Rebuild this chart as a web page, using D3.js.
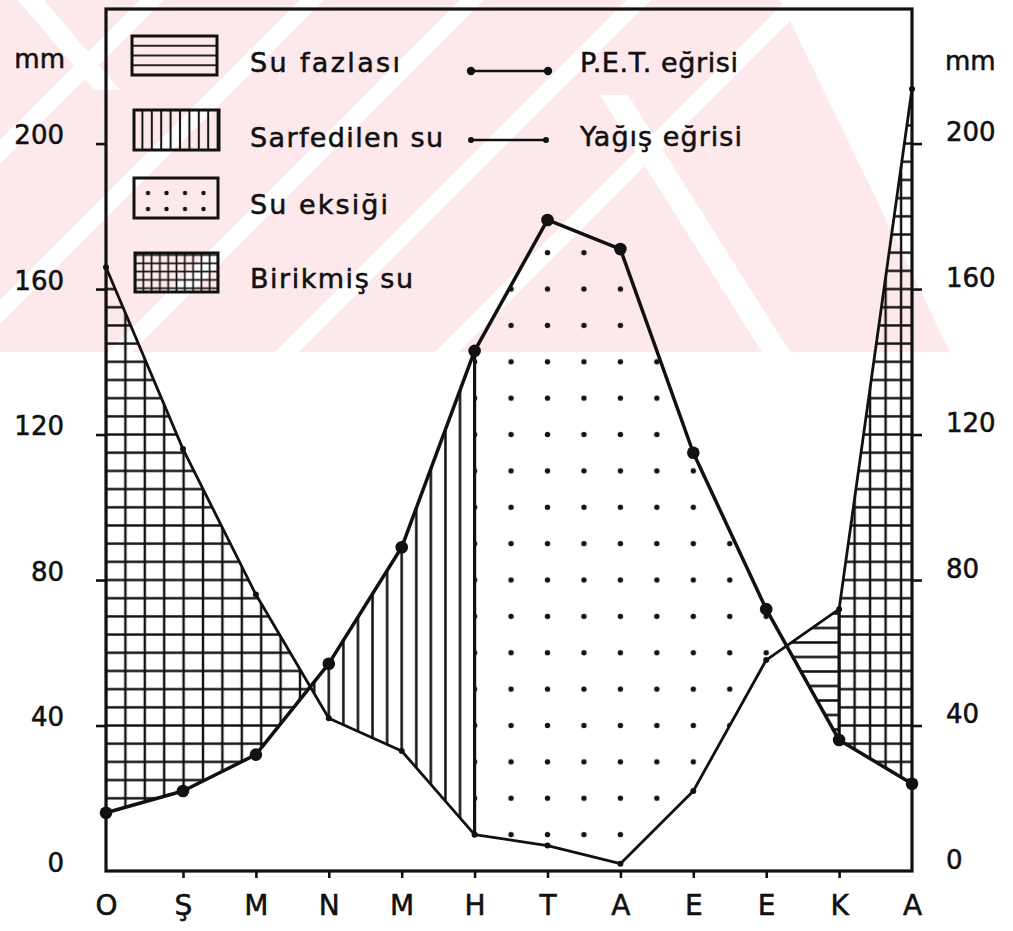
<!DOCTYPE html>
<html><head><meta charset="utf-8">
<script src="https://cdn.jsdelivr.net/npm/d3@7"></script>
<style>
body{margin:0;background:#fff}
svg{display:block}
text{font-family:"DejaVu Sans",sans-serif;fill:#111;stroke:#111;stroke-width:0.55px}
</style>
</head><body>
<svg id="c" width="1013" height="931"></svg>
<script>
// ---------- data ----------
const months = ["O","Ş","M","N","M","H","T","A","E","E","K","A"];
const pet  = [16, 22, 32, 57, 89, 143, 179, 171, 115, 72, 36, 24];   // P.E.T. (mm)
const rain = [166, 116, 76, 42, 33, 10, 7, 2, 22, 58, 72, 215];      // Yağış (mm)
const yTicks = [0, 40, 80, 120, 160, 200];
const usageEndMonth = 5;     // H : stored water used up
const rechargeMonth = 10;    // K : recharge begins
const legendAreas = ["Su fazlası", "Sarfedilen su", "Su eksiği", "Birikmiş su"];
const legendLines = ["P.E.T. eğrisi", "Yağış eğrisi"];
const unitLabel = "mm";

// ---------- setup ----------
const svg = d3.select("#c");
const ink = "#111";
const pink = "#fde9ec";
const x = d3.scaleLinear().domain([0, 1, months.length - 1]).range([106, 183, 912]);
const y = d3.scaleLinear().domain([0, 237]).range([871, 9]);
const defs = svg.append("defs");

// ---------- watermark (light pink stripes) ----------
defs.append("clipPath").attr("id","wmclip").append("rect")
  .attr("x",0).attr("y",0).attr("width",1013).attr("height",352);
const wm = svg.append("g").attr("clip-path","url(#wmclip)");
wm.append("path").attr("d","M0,0 L780,0 L950,352 L0,352 Z").attr("fill",pink);
[140,300,460,627,787].forEach(c=>{
  const w=24;
  wm.append("path").attr("fill","#fff")
    .attr("d",`M${c},0 L${c+w},0 L${c+w-352},352 L${c-352},352 Z`);
});
wm.append("path").attr("fill","#fff").attr("d","M600,95 L628,95 L790,352 L762,352 Z");
wm.append("path").attr("fill","#fff").attr("d","M18,0 L44,0 L120,90 L94,90 Z");

// ---------- patterns ----------
function pat(id, w, h, px, py, draw){
  const p = defs.append("pattern").attr("id",id).attr("patternUnits","userSpaceOnUse")
    .attr("width",w).attr("height",h).attr("x",px).attr("y",py);
  draw(p, w, h);
}
function hLine(p,w,h,sw){ p.append("line").attr("x1",0).attr("x2",w).attr("y1",h/2).attr("y2",h/2).attr("stroke",ink).attr("stroke-width",sw); }
function vLine(p,w,h,sw){ p.append("line").attr("y1",0).attr("y2",h).attr("x1",w/2).attr("x2",w/2).attr("stroke",ink).attr("stroke-width",sw); }
function dot(p,w,h,r){ p.append("circle").attr("cx",w/2).attr("cy",h/2).attr("r",r).attr("fill",ink); }

const monthW = x(2) - x(1);
const mm5 = y(0) - y(5), mm10 = y(0) - y(10);
// big chart patterns
pat("grid", 19.4, mm5, x(0) - 9.7, y(0) - mm5/2, (p,w,h)=>{hLine(p,w,h,2.4); vLine(p,w,h,2.4);});
pat("grid2", 15.5, mm5, x(rechargeMonth) - 7.75, y(0) - mm5/2, (p,w,h)=>{hLine(p,w,h,2.4); vLine(p,w,h,2.4);});
pat("vert", monthW/5, 20, x(1) - monthW/10, 0, (p,w,h)=>vLine(p,w,h,2.5));
pat("horiz", 14.5, 14.5, 0, 628 - 7.25, (p,w,h)=>hLine(p,w,h,2.5));
pat("dots", monthW/2, mm10, x(1) - monthW/4, y(0) - mm10/2, (p,w,h)=>dot(p,w,h,2.7));
// legend patterns
pat("lg-horiz", 20, 9.75, 0, 36 - 4.875, (p,w,h)=>hLine(p,w,h,1.8));
pat("lg-vert", 9.4, 20, 133 - 4.7, 0, (p,w,h)=>vLine(p,w,h,2));
pat("lg-dots", 18.5, 16, 148 - 9.25, 193 - 8, (p,w,h)=>dot(p,w,h,2.2));
pat("lg-grid", 8.3, 8.3, 135 - 4.15, 255 - 4.15, (p,w,h)=>{hLine(p,w,h,1.7); vLine(p,w,h,1.7);});

// ---------- areas ----------
const interp = (arr, t) => { const i = Math.min(Math.floor(t), arr.length - 2); return arr[i] + (t - i) * (arr[i+1] - arr[i]); };
const cross = [];
for (let i = 0; i < months.length - 1; i++) {
  const d0 = rain[i] - pet[i], d1 = rain[i+1] - pet[i+1];
  if (d0 * d1 < 0) cross.push(i + d0 / (d0 - d1));
}
const c1 = cross[0], c2 = cross[cross.length - 1];
const regions = [
  {from: 0, to: c1, fill: "url(#grid)"},
  {from: c1, to: usageEndMonth, fill: "url(#vert)"},
  {from: usageEndMonth, to: c2, fill: "url(#dots)"},
  {from: c2, to: rechargeMonth, fill: "url(#horiz)"},
  {from: rechargeMonth, to: months.length - 1, fill: "url(#grid2)"}
];
function regionPath(a, b){
  const ts = [a]; for (let i = Math.ceil(a); i < b; i++) if (i > a) ts.push(i); ts.push(b);
  const top = ts.map(t => [x(t), y(interp(rain, t))]);
  const bot = ts.slice().reverse().map(t => [x(t), y(interp(pet, t))]);
  return "M" + top.concat(bot).map(p => p.join(",")).join("L") + "Z";
}
svg.append("g").selectAll("path").data(regions).join("path")
  .attr("d", d => regionPath(d.from, d.to)).attr("fill", d => d.fill).attr("stroke", "none");

// phase boundary lines (H and K)
[usageEndMonth, rechargeMonth].forEach(m=>{
  svg.append("line").attr("x1",x(m)).attr("x2",x(m)).attr("y1",y(rain[m])).attr("y2",y(pet[m]))
    .attr("stroke",ink).attr("stroke-width",3.2);
});

// ---------- curves ----------
const line = (arr) => d3.line().x((d,i)=>x(i)).y(d=>y(d))(arr);
svg.append("path").attr("d", line(rain)).attr("fill","none").attr("stroke",ink).attr("stroke-width",2.8).attr("stroke-linejoin","round");
svg.append("path").attr("d", line(pet)).attr("fill","none").attr("stroke",ink).attr("stroke-width",3.5).attr("stroke-linejoin","round");
svg.append("g").selectAll("circle").data(rain).join("circle")
  .attr("cx",(d,i)=>x(i)).attr("cy",d=>y(d)).attr("r",3).attr("fill",ink);
svg.append("g").selectAll("circle").data(pet).join("circle")
  .attr("cx",(d,i)=>x(i)).attr("cy",d=>y(d)).attr("r",6.3).attr("fill",ink);

// ---------- frame & axes ----------
svg.append("rect").attr("x",x(0)).attr("y",y(237)).attr("width",x(11)-x(0)).attr("height",y(0)-y(237))
  .attr("fill","none").attr("stroke",ink).attr("stroke-width",3.2);

const axL = svg.append("g").attr("transform",`translate(${x(0)},0)`)
  .call(d3.axisLeft(y).tickValues(yTicks).tickSize(10).tickSizeOuter(0).tickPadding(32));
const axR = svg.append("g").attr("transform",`translate(${x(11)},0)`)
  .call(d3.axisRight(y).tickValues(yTicks).tickSize(10).tickSizeOuter(0).tickPadding(24));
const axB = svg.append("g").attr("transform",`translate(0,${y(0)})`)
  .call(d3.axisBottom(x).tickValues(d3.range(months.length)).tickFormat(i=>months[i]).tickSize(7).tickSizeOuter(0).tickPadding(17));
[axL, axR, axB].forEach(a=>{
  a.select(".domain").remove();
  a.selectAll(".tick line").attr("stroke",ink).attr("stroke-width",2.6);
  a.selectAll("text").attr("font-size",26).attr("fill",ink).attr("font-family","DejaVu Sans");
});
axL.selectAll(".tick line").filter(d=>d===0).remove();
axR.selectAll(".tick line").filter(d=>d===0).remove();
axL.selectAll("text").attr("dy","0");
axR.selectAll("text").attr("dy","-0.1em");
axB.selectAll("text").attr("font-size",28).attr("dy","0.71em");
axB.selectAll(".tick").filter(d=>d===0 || d===11).select("line").remove();

svg.append("text").attr("x",65).attr("y",68).attr("text-anchor","end").attr("font-size",26).text(unitLabel);
svg.append("text").attr("x",945).attr("y",70).attr("text-anchor","start").attr("font-size",26).text(unitLabel);

// ---------- legend ----------
const boxes = [
  {x:132, y:36, w:85, h:39, fill:"url(#lg-horiz)", tx:250, ty:72, tl:150},
  {x:134, y:110, w:85, h:40, fill:"url(#lg-vert)", tx:250, ty:147, tl:193},
  {x:134, y:178, w:84, h:40, fill:"url(#lg-dots)", tx:250, ty:214, tl:138},
  {x:135, y:253, w:83, h:39, fill:"url(#lg-grid)", tx:250, ty:288, tl:163}
];
const lg = svg.append("g");
boxes.forEach((b,i)=>{
  lg.append("rect").attr("x",b.x).attr("y",b.y).attr("width",b.w).attr("height",b.h)
    .attr("fill",b.fill).attr("stroke",ink).attr("stroke-width",3);
  lg.append("text").attr("x",b.tx).attr("y",b.ty).attr("font-size",27)
    .attr("textLength",b.tl).attr("lengthAdjust","spacing").text(legendAreas[i]);
});
const lls = [
  {x1:471, x2:548, y:71, r:4.2, sw:2.6, ty:72, tl:158},
  {x1:471, x2:546, y:140, r:3, sw:2.4, ty:146, tl:162}
];
lls.forEach((l,i)=>{
  lg.append("line").attr("x1",l.x1).attr("x2",l.x2).attr("y1",l.y).attr("y2",l.y).attr("stroke",ink).attr("stroke-width",l.sw);
  [l.x1,l.x2].forEach(cx=>lg.append("circle").attr("cx",cx).attr("cy",l.y).attr("r",l.r).attr("fill",ink));
  lg.append("text").attr("x",580).attr("y",l.ty).attr("font-size",27)
    .attr("textLength",l.tl).attr("lengthAdjust","spacing").text(legendLines[i]);
});
</script>
</body></html>
